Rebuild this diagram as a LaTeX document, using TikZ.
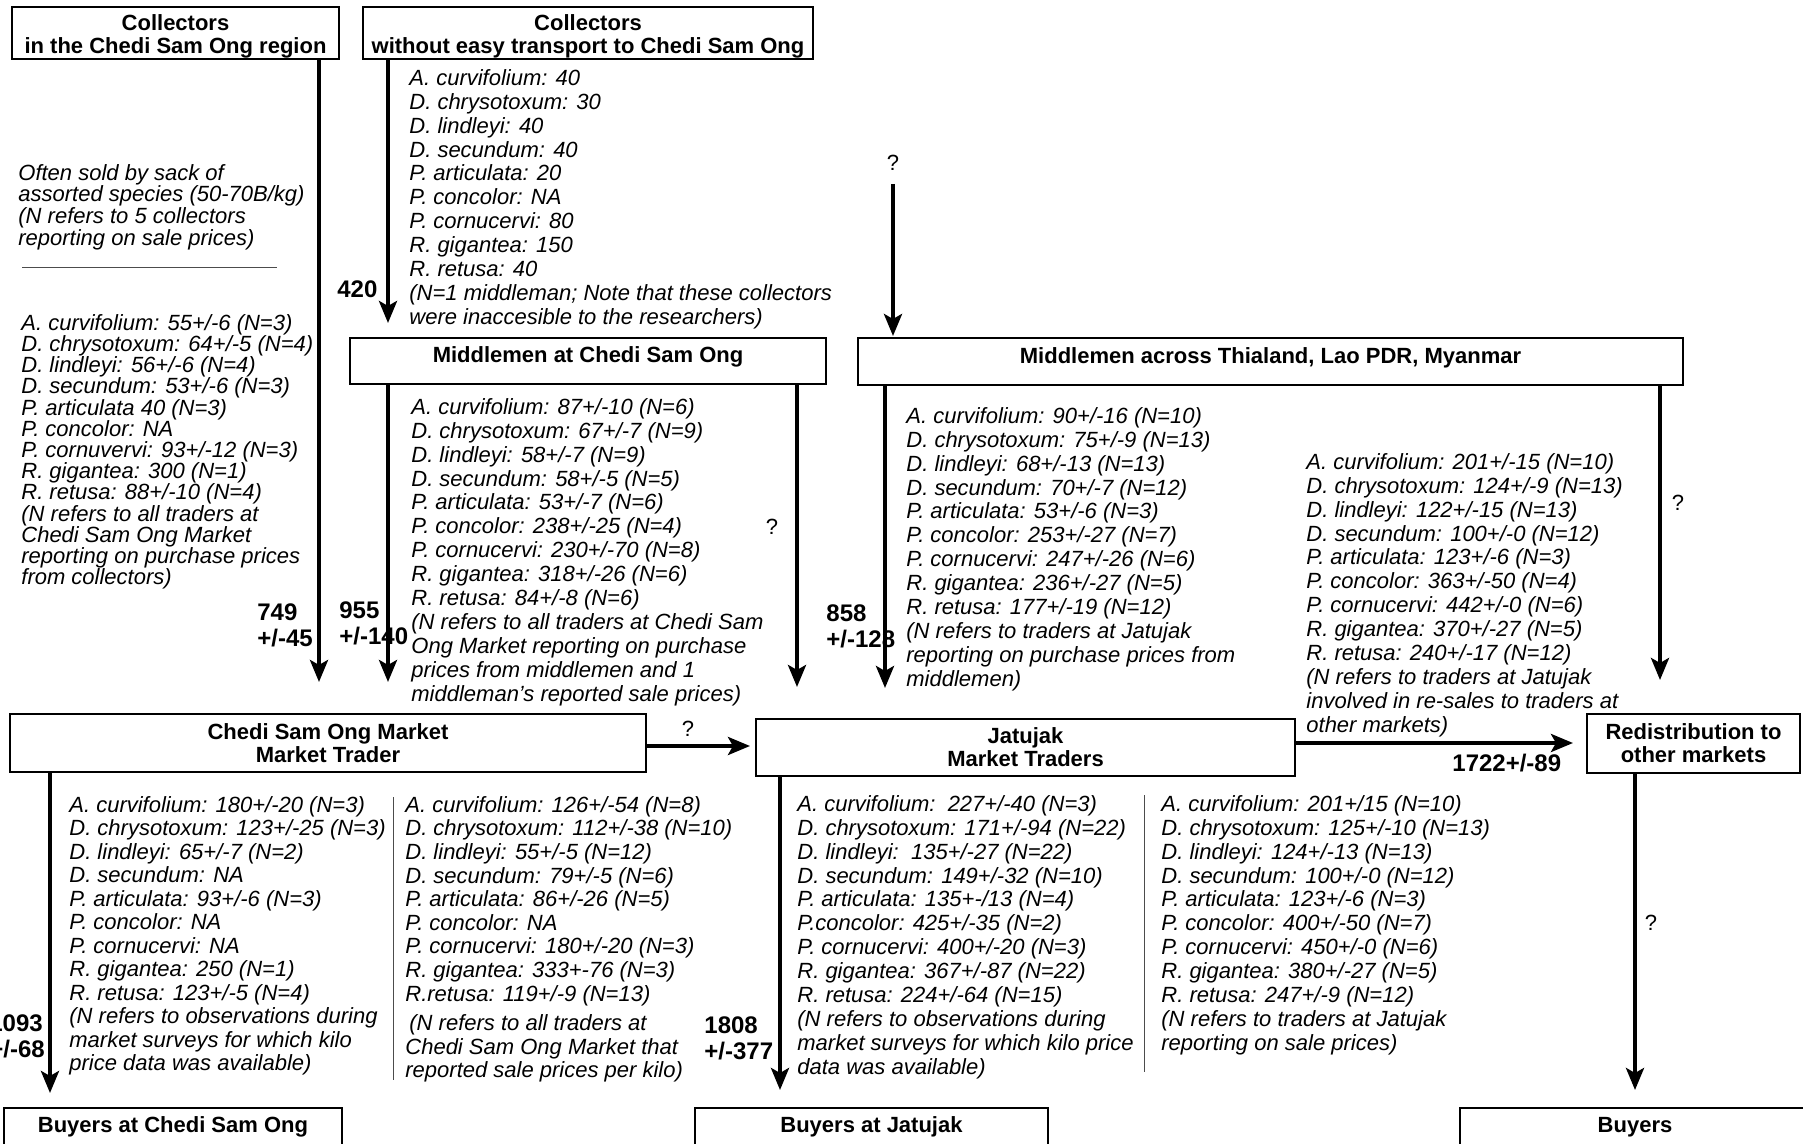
\documentclass[tikz,border=0pt]{standalone}
\usepackage{fontspec}
\setmainfont{Liberation Sans}
\usetikzlibrary{arrows.meta}
\begin{document}
\begin{tikzpicture}[x=0.5pt,y=-0.5pt,
  box/.style={draw=black, line width=0.7pt, inner sep=0pt, outer sep=0pt, anchor=north west, align=center, font=\fontsize{11}{11.5}\selectfont\bfseries},
  lst/.style={anchor=north west, inner sep=0pt, align=left, font=\fontsize{11}{11.95}\selectfont\itshape},
  num/.style={anchor=north west, inner sep=0pt, align=left, font=\fontsize{12}{13}\selectfont\bfseries},
  qm/.style={inner sep=0pt, font=\fontsize{11}{12}\selectfont},
  arr/.style={line width=2pt, -{Stealth[length=11pt,width=9pt,inset=2.5pt]}},
  sep/.style={line width=0.5pt, draw=black!70}]
\path[use as bounding box, fill=white] (0,0) rectangle (1803,1144);

% boxes
\node[box, minimum width=163.5pt, minimum height=26pt] (b1) at (12,7) {\rule{0pt}{11.5pt}Collectors\\in the Chedi Sam Ong region};
\node[box, minimum width=225pt, minimum height=26pt] (b2) at (363,7) {\rule{0pt}{11.5pt}Collectors\\without easy transport to Chedi Sam Ong};
\node[box, minimum width=238pt, minimum height=23pt, text height=8pt, text depth=6pt] (b3) at (350,338) {Middlemen at Chedi Sam Ong};
\node[box, minimum width=412.5pt, minimum height=23.5pt, text height=8pt, text depth=6pt] (b4) at (858,338) {Middlemen across Thialand, Lao PDR, Myanmar};
\node[box, minimum width=318pt, minimum height=29pt] (b5) at (10,714) {Chedi Sam Ong Market\\Market Trader};
\node[box, minimum width=269.5pt, minimum height=28.5pt] (b6) at (756,719) {Jatujak\\Market Traders};
\node[box, minimum width=106.5pt, minimum height=29.5pt] (b7) at (1587,714) {Redistribution to\\other markets};
\node[box, minimum width=169pt, minimum height=19pt] (b8) at (4,1108) {Buyers at Chedi Sam Ong};
\node[box, minimum width=176.5pt, minimum height=19pt] (b9) at (695,1108) {Buyers at Jatujak};
\node[box, minimum width=175pt, minimum height=19pt] (b10) at (1460,1108) {Buyers};

% arrow reference coordinates
\coordinate (xa1) at (319,0);
\coordinate (xa2) at (388,0);
\coordinate (q3) at (893,184);
\coordinate (xa5) at (797,0);
\coordinate (xa6) at (885,0);
\coordinate (xa7) at (1660,0);
\coordinate (ya8) at (0,746);
\coordinate (ya9) at (0,743);
\coordinate (xa10) at (50,0);
\coordinate (xa11) at (780,0);
\coordinate (xa12) at (1635,0);

% arrows
\draw[arr, shorten >=16pt] (b1.south -| xa1) -- (b5.north -| xa1);
\draw[arr, shorten >=7.5pt] (b2.south -| xa2) -- (b3.north -| xa2);
\draw[arr, shorten >=1pt] (q3) -- (b4.north -| q3);
\draw[arr, shorten >=16pt] (b3.south -| xa2) -- (b5.north -| xa2);
\draw[arr, shorten >=16pt] (b3.south -| xa5) -- (b6.north -| xa5);
\draw[arr, shorten >=15.5pt] (b4.south -| xa6) -- (b6.north -| xa6);
\draw[arr, shorten >=17pt] (b4.south -| xa7) -- (b7.north -| xa7);
\draw[arr, shorten >=3pt] (b5.east |- ya8) -- (b6.west |- ya8);
\draw[arr, shorten >=7pt] (b6.east |- ya9) -- (b7.west |- ya9);
\draw[arr, shorten >=7.5pt] (b5.south -| xa10) -- (b8.north -| xa10);
\draw[arr, shorten >=9pt] (b6.south -| xa11) -- (b9.north -| xa11);
\draw[arr, shorten >=9pt] (b7.south -| xa12) -- (b10.north -| xa12);

% separators
\coordinate (h1a) at (22,268);
\coordinate (h1b) at (277,268);
\draw[sep] (h1a) -- (h1b);
\coordinate (v1a) at (393,797);
\coordinate (v1b) at (393,1080);
\draw[sep] (v1a) -- (v1b);
\coordinate (v2a) at (1144,795);
\coordinate (v2b) at (1144,1072);
\draw[sep] (v2a) -- (v2b);

% number labels
\node[num] (n420) at (337,280) {420};
\node[num] (n749) at (257,603) {749\\+/-45};
\node[num] (n955) at (339,601) {955\\+/-140};
\node[num] (n858) at (826,604) {858\\+/-128};
\node[num] (n1808) at (704,1016) {1808\\+/-377};
\node[num] (n1093) at (-11,1014) {1093\\+/-68};
\node[num] (n1722) at (1452,754) {1722+/-89};

% question marks
\node[qm] (q1) at (893,163) {?};
\node[qm] (q2) at (772,527) {?};
\node[qm] (q3l) at (1678,503) {?};
\node[qm] (q4) at (688,729) {?};
\node[qm] (q5) at (1651,923) {?};

% text blocks
\node[lst, font=\fontsize{11}{10.8}\selectfont\itshape] (t1) at (18,164) {Often sold by sack of\\assorted species (50-70B/kg)\\(N refers to 5 collectors\\reporting on sale prices)};

\node[lst, font=\fontsize{11}{10.6}\selectfont\itshape] (t2) at (21,314) {A. curvifolium: 55+/-6 (N=3)\\D. chrysotoxum: 64+/-5 (N=4)\\D. lindleyi: 56+/-6 (N=4)\\D. secundum: 53+/-6 (N=3)\\P. articulata 40 (N=3)\\P. concolor: NA\\P. cornuvervi: 93+/-12 (N=3)\\R. gigantea: 300 (N=1)\\R. retusa: 88+/-10 (N=4)\\(N refers to all traders at\\Chedi Sam Ong Market\\reporting on purchase prices\\from collectors)};

\node[lst] (t3) at (409,69) {A. curvifolium: 40\\D. chrysotoxum: 30\\D. lindleyi: 40\\D. secundum: 40\\P. articulata: 20\\P. concolor: NA\\P. cornucervi: 80\\R. gigantea: 150\\R. retusa: 40\\(N=1 middleman; Note that these collectors\\were inaccesible to the researchers)};

\node[lst] (t4) at (411,398) {A. curvifolium: 87+/-10 (N=6)\\D. chrysotoxum: 67+/-7 (N=9)\\D. lindleyi: 58+/-7 (N=9)\\D. secundum: 58+/-5 (N=5)\\P. articulata: 53+/-7 (N=6)\\P. concolor: 238+/-25 (N=4)\\P. cornucervi: 230+/-70 (N=8)\\R. gigantea: 318+/-26 (N=6)\\R. retusa: 84+/-8 (N=6)\\(N refers to all traders at Chedi Sam\\Ong Market reporting on purchase\\prices from middlemen and 1\\middleman's reported sale prices)};

\node[lst] (t5) at (906,407) {A. curvifolium: 90+/-16 (N=10)\\D. chrysotoxum: 75+/-9 (N=13)\\D. lindleyi: 68+/-13 (N=13)\\D. secundum: 70+/-7 (N=12)\\P. articulata: 53+/-6 (N=3)\\P. concolor: 253+/-27 (N=7)\\P. cornucervi: 247+/-26 (N=6)\\R. gigantea: 236+/-27 (N=5)\\R. retusa: 177+/-19 (N=12)\\(N refers to traders at Jatujak\\reporting on purchase prices from\\middlemen)};

\node[lst] (t6) at (1306,453) {A. curvifolium: 201+/-15 (N=10)\\D. chrysotoxum: 124+/-9 (N=13)\\D. lindleyi: 122+/-15 (N=13)\\D. secundum: 100+/-0 (N=12)\\P. articulata: 123+/-6 (N=3)\\P. concolor: 363+/-50 (N=4)\\P. cornucervi: 442+/-0 (N=6)\\R. gigantea: 370+/-27 (N=5)\\R. retusa: 240+/-17 (N=12)\\(N refers to traders at Jatujak\\involved in re-sales to traders at\\other markets)};

\node[lst, font=\fontsize{11}{11.75}\selectfont\itshape] (t7) at (69,796) {A. curvifolium: 180+/-20 (N=3)\\D. chrysotoxum: 123+/-25 (N=3)\\D. lindleyi: 65+/-7 (N=2)\\D. secundum: NA\\P. articulata: 93+/-6 (N=3)\\P. concolor: NA\\P. cornucervi: NA\\R. gigantea: 250 (N=1)\\R. retusa: 123+/-5 (N=4)\\(N refers to observations during\\market surveys for which kilo\\price data was available)};

\node[lst, font=\fontsize{11}{11.8}\selectfont\itshape] (t8) at (405,796) {A. curvifolium: 126+/-54 (N=8)\\D. chrysotoxum: 112+/-38 (N=10)\\D. lindleyi: 55+/-5 (N=12)\\D. secundum: 79+/-5 (N=6)\\P. articulata: 86+/-26 (N=5)\\P. concolor: NA\\P. cornucervi: 180+/-20 (N=3)\\R. gigantea: 333+-76 (N=3)\\R.retusa: 119+/-9 (N=13)\\[3pt]\hspace{2pt}(N refers to all traders at\\Chedi Sam Ong Market that\\reported sale prices per kilo)};

\node[lst] (t9) at (797,795) {A. curvifolium:\ \ 227+/-40 (N=3)\\D. chrysotoxum: 171+/-94 (N=22)\\D. lindleyi:\ \ 135+/-27 (N=22)\\D. secundum: 149+/-32 (N=10)\\P. articulata: 135+-/13 (N=4)\\P.concolor: 425+/-35 (N=2)\\P. cornucervi: 400+/-20 (N=3)\\R. gigantea: 367+/-87 (N=22)\\R. retusa: 224+/-64 (N=15)\\(N refers to observations during\\market surveys for which kilo price\\data was available)};

\node[lst] (t10) at (1161,795) {A. curvifolium: 201+/15 (N=10)\\D. chrysotoxum: 125+/-10 (N=13)\\D. lindleyi: 124+/-13 (N=13)\\D. secundum: 100+/-0 (N=12)\\P. articulata: 123+/-6 (N=3)\\P. concolor: 400+/-50 (N=7)\\P. cornucervi: 450+/-0 (N=6)\\R. gigantea: 380+/-27 (N=5)\\R. retusa: 247+/-9 (N=12)\\(N refers to traders at Jatujak\\reporting on sale prices)};
\end{tikzpicture}
\end{document}
